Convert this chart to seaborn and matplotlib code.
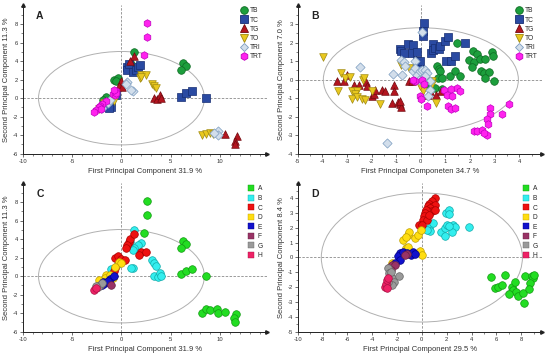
import matplotlib
matplotlib.use("Agg")
import matplotlib.pyplot as plt
import seaborn as sns
import pandas as pd
from matplotlib.patches import Ellipse
from matplotlib.lines import Line2D
from matplotlib.ticker import MultipleLocator, AutoMinorLocator

# ---------------- data (PC1, PC2) ----------------
# Panel A
a_tb = [(1.3,5.0),(1.0,3.7),(-0.8,2.0),(-0.3,2.2),(-0.5,1.9),(6.2,3.8),(6.5,3.5),(6.0,3.1),(-1.6,0.1),(-1.9,-0.2)]
a_tc = [(0.6,3.4),(0.6,3.0),(0.8,3.7),(1.2,2.8),(1.5,3.0),(1.7,3.4),(1.9,3.6),(-0.6,0.3),(-1.1,-1.0),(-1.3,-1.1),
        (6.0,0.1),(6.5,0.55),(7.1,0.8),(8.6,0.0)]
a_tg = [(1.3,4.6),(0.9,4.0),(0.0,1.9),(-0.2,1.3),(0.05,1.2),(3.3,0.05),(3.6,-0.1),(3.9,0.3),(4.0,0.0),
        (10.5,-3.9),(11.7,-4.1),(11.5,-4.6),(11.5,-4.9)]
a_to = [(1.95,2.5),(1.9,2.2),(2.5,2.5),(2.0,2.3),(3.1,1.55),(3.3,1.3),(3.5,1.1),(-0.8,-0.3),(-1.8,-0.5),(-2.3,-1.2),
        (8.2,-4.0),(8.6,-3.9),(9.0,-3.8),(9.3,-3.9)]
a_tri = [(0.6,1.8),(0.5,1.5),(1.2,0.8),(1.0,0.9),(9.76,-3.6),(9.76,-4.0),(9.4,-3.8),(-1.4,-0.5),(-1.2,-0.2),(-2.0,-1.1)]
a_trt = [(2.6,8.1),(2.6,6.6),(2.3,4.7),(-0.6,0.8),(-0.9,0.5),(-0.7,0.3),(-0.5,0.6),(-0.8,0.9),(-1.6,-0.3),
         (-2.0,-0.6),(-2.2,-0.8),(-2.3,-1.0),(-2.6,-1.3),(-2.8,-1.5),(-2.1,-1.2)]

# Panel B
b_tb = [(1.46,2.0),(2.12,1.52),(2.28,1.40),(1.94,1.08),(2.14,0.95),(2.41,1.11),(2.62,1.11),(2.89,1.47),(2.91,1.25),
        (2.07,0.66),(2.44,0.45),(2.57,0.36),(2.75,0.41),(2.59,0.09),(2.95,-0.05),(0.65,0.72),(0.72,0.57),(0.79,0.45),
        (0.69,0.09),(0.85,0.09),(1.17,0.22),(1.40,0.45),(1.6,0.22),(0.58,-0.45),(0.85,-0.5),(0.22,-0.05),(0.28,-0.22)]
b_tc = [(0.14,3.05),(0.08,2.6),(0.08,2.33),(-0.84,1.65),(-0.8,1.52),(-0.53,1.92),(-0.33,1.88),(-0.7,1.43),(-0.37,1.43),
        (0.51,1.92),(0.42,1.43),(0.51,1.61),(0.58,1.70),(0.72,1.65),(0.79,1.79),(0.99,2.10),(1.10,2.28),(1.80,2.0),
        (1.02,1.02),(1.23,0.99),(1.37,1.25),(-0.16,1.47),(-0.16,0.99),(-0.09,0.84),(-0.05,0.99)]
b_tg = [(-3.41,-0.09),(-3.14,-0.09),(-3.0,0.27),(-2.7,-0.27),(-2.53,-0.3),(-2.22,-0.13),(-2.2,-0.36),(-1.99,-0.86),
        (-1.92,-0.77),(-1.86,-0.57),(-1.59,-0.54),(-1.45,-0.63),(-1.11,-0.3),(-1.11,-0.63),(-1.18,-1.25),(-0.93,-1.22),
        (-0.84,-1.31),(-0.81,-1.49),(-0.84,-1.16),(-0.5,-0.09),(-0.37,-0.09),(0.38,-0.63),(0.62,-0.84),(0.83,-0.63),(0.31,-0.84)]
b_to = [(-3.96,1.22),(-3.25,0.36),(-3.08,0.09),(-2.87,0.13),(-3.35,-0.63),(-2.78,-0.59),(-2.60,-0.63),(-2.67,-0.77),
        (-2.80,-1.04),(-2.60,-0.95),(-2.40,-1.04),(-2.26,-1.08),(-2.33,0.0),(-2.29,0.09),(-1.99,-0.63),(-1.65,-1.29),
        (-0.8,0.77),(-0.47,0.63),(0.45,-0.09),(0.45,-0.22),(0.62,-1.25),(0.08,-0.59),(-0.03,-0.36)]
b_tri = [(-2.47,0.68),(-1.36,-3.41),(-1.15,0.32),(-0.81,1.08),(-0.7,0.95),(-0.64,0.72),(-0.77,0.27),(-0.33,0.45),
         (-0.23,0.99),(-0.23,0.63),(-0.16,0.27),(-0.03,0.45),(0.04,0.54),(0.18,0.54),(0.24,0.36),(0.15,0.18),
         (0.04,2.56),(0.38,-0.09),(0.38,-0.54),(0.28,-0.90),(-0.09,0.0),(0.11,-0.18)]
b_trt = [(-0.23,-0.09),(0.04,0.0),(-0.3,0.0),(0.11,-0.23),(-0.05,-0.9),(0.0,-1.02),(0.24,-1.43),(0.92,-0.54),
         (1.06,-0.81),(1.23,-0.5),(1.26,-0.9),(1.46,-0.45),(1.60,-0.63),(1.12,-1.43),(1.22,-1.61),(1.40,-1.52),
         (2.82,-1.52),(2.79,-1.88),(2.68,-2.11),(2.72,-2.42),(2.68,-3.01),(2.14,-2.78),(2.28,-2.78),(2.48,-2.74),
         (2.55,-2.87),(3.29,-1.88),(3.56,-1.34)]

# Panel C
c_a = [(2.6,8.1),(2.6,6.6),(2.3,4.7),(6.2,3.8),(6.5,3.5),(6.0,3.1),(6.0,0.2),(6.5,0.6),(7.1,0.8),(8.6,0.0),
       (8.2,-3.95),(8.6,-3.6),(9.0,-3.7),(9.7,-3.5),(9.8,-4.0),(10.5,-3.9),(11.6,-4.1),(11.4,-4.5),(11.5,-4.9)]
c_b = [(1.3,5.0),(1.95,3.6),(1.7,3.4),(1.3,3.0),(1.2,2.8),(0.9,3.7),(3.1,1.7),(3.3,1.4),(3.5,1.1),(1.2,0.9),(1.0,0.9),
       (3.3,0.05),(3.7,-0.1),(3.9,0.3),(4.0,0.0),(-0.3,1.3),(-1.1,0.8)]
c_c = [(0.75,3.7),(0.9,4.0),(1.3,4.6),(0.6,3.4),(0.5,3.0),(-0.7,2.0),(-0.3,2.2),(0.0,1.9),(0.4,1.8),(1.95,2.6),
       (1.8,2.3),(2.5,2.6),(-0.7,0.9),(-0.8,0.6),(-1.3,0.0)]
c_d = [(-0.2,1.5),(0.0,1.4),(-0.7,1.0),(-1.6,0.1),(-1.7,-0.2),(-1.2,0.1),(-2.0,-0.6),(-2.3,-0.4),(-0.9,-0.2)]
c_e = [(-1.9,-0.6),(-1.7,-0.7),(-1.2,-0.3),(-0.75,0.0),(-2.0,-0.9),(-1.4,-0.5)]
c_f = [(-1.1,-0.9),(-2.2,-1.0),(-2.5,-1.2)]
c_g = [(-2.2,-0.9),(-2.4,-1.2),(-2.0,-0.7),(-2.6,-1.1)]
c_h = [(-2.8,-1.5),(-2.6,-1.3)]

# Panel D
d_a = [(5.59,-1.33),(6.72,-1.17),(5.91,-2.07),(6.13,-1.96),(6.45,-1.85),(7.26,-1.96),(7.47,-1.62),(7.34,-2.18),
       (7.61,-2.30),(6.99,-2.48),(7.72,-2.59),(8.28,-1.24),(8.12,-2.41),(8.2,-3.04),(8.87,-1.28),(8.95,-1.40),
       (9.0,-1.17),(8.74,-1.73),(8.66,-2.14)]
d_b = [(0.54,1.98),(0.62,1.76),(0.40,1.87),(0.86,2.32),(1.96,3.0),(2.20,3.18),(2.15,2.93),(1.56,1.69),(1.88,1.42),
       (1.88,1.98),(2.02,2.21),(2.5,2.21),(2.69,2.03),(2.42,1.69),(3.76,2.03),(2.15,2.09)]
d_c = [(1.02,4.0),(0.81,3.78),(0.59,3.6),(0.48,3.45),(0.86,3.45),(1.08,3.56),(0.67,3.33),(0.81,3.15),(0.48,3.11),
       (0.32,3.22),(0.27,3.0),(0.19,2.77),(0.08,2.55),(0.40,2.55),(0.54,2.84),(-0.22,2.21),(0.0,2.21),(1.02,3.22)]
d_d = [(-1.13,1.53),(-1.02,1.69),(-1.53,1.19),(-1.29,1.35),(-0.54,1.31),(-0.32,1.49),(-0.08,1.87),(-1.29,0.63),
       (-1.13,0.68),(-0.13,0.41),(0.0,0.14),(-2.37,-0.38)]
d_e = [(-1.75,0.29),(-1.94,0.07),(-1.80,-0.16),(-1.48,0.36),(-1.21,0.29),(-0.86,0.18),(-0.73,0.36),(-0.59,0.23),(-2.15,-0.38)]
d_f = [(-1.21,0.23),(-1.34,0.14),(-2.55,-0.61),(-2.42,-0.54),(-2.15,-0.54),(-2.47,-0.83)]
d_g = [(-2.69,-0.72),(-2.63,-1.06),(-2.55,-1.28),(-2.37,-1.40),(-1.88,-1.28),(-2.28,-1.62),(-2.42,-1.85),(-2.69,-1.62),(-2.47,-0.95)]
d_h = [(-2.96,-1.96),(-2.88,-1.80),(-2.77,-1.51),(-2.69,-1.40),(-2.82,-2.03)]

labels_ab = ["TB", "TC", "TG", "TO", "TRI", "TRT"]
labels_cd = ["A", "B", "C", "D", "E", "F", "G", "H"]

# ---------------- styles ----------------
style_ab = {
    "TB": ("o", "#1c9e3c", "#0d6a22"),
    "TC": ("s", "#2a4aa2", "#172e72"),
    "TG": ("^", "#b3151f", "#700a10"),
    "TO": ("v", "#e9c81f", "#a08a10"),
    "TRI": ("D", "#d2deeb", "#7c9cc0"),
    "TRT": ("h", "#ff22ee", "#c000c0"),
}
style_cd = {
    "A": ("#22dd22", "#119911"),
    "B": ("#33eeee", "#10aaaa"),
    "C": ("#ee1111", "#aa0000"),
    "D": ("#ffdd11", "#c0a000"),
    "E": ("#1111cc", "#000088"),
    "F": ("#993366", "#662244"),
    "G": ("#9a9a9a", "#666666"),
    "H": ("#ee2266", "#aa1144"),
}

sns.set_theme(style="white")
plt.rcParams["font.family"] = ["Liberation Sans", "DejaVu Sans"]

fig = plt.figure(figsize=(5.5, 3.56), dpi=100)
TXT = "#333333"

def frame(rect, xlim, ylim, xstep, ystep, ell, letter):
    ax = fig.add_axes(rect)
    ax.set_xlim(*xlim)
    ax.set_ylim(*ylim)
    for s in ["top", "right"]:
        ax.spines[s].set_visible(False)
    for s in ["left", "bottom"]:
        ax.spines[s].set_color("#222222")
        ax.spines[s].set_linewidth(0.7)
    ax.plot(1, 0, ">", color="#222222", markersize=2.5, transform=ax.transAxes, clip_on=False)
    ax.plot(0, 1, "^", color="#222222", markersize=2.5, transform=ax.transAxes, clip_on=False)
    ax.xaxis.set_major_locator(MultipleLocator(xstep))
    ax.yaxis.set_major_locator(MultipleLocator(ystep))
    ax.xaxis.set_minor_locator(AutoMinorLocator(2 if xstep <= 2 else 5))
    ax.yaxis.set_minor_locator(AutoMinorLocator(2))
    ax.tick_params(which="major", direction="out", length=2, width=0.5, labelsize=4.2,
                   colors=TXT, pad=1.5, bottom=True, left=True)
    ax.tick_params(which="minor", direction="out", length=1.2, width=0.4, bottom=True, left=True)
    xt = [t for t in ax.get_xticks() if xlim[0] - 1e-6 <= t <= xlim[1] - 0.3]
    yt = [t for t in ax.get_yticks() if ylim[0] - 1e-6 <= t <= ylim[1] - 0.5]
    ax.set_xticks(xt)
    ax.set_yticks(yt)
    ax.set_xticklabels([f"{t:g}" for t in xt])
    ax.set_yticklabels([f"{t:g}" for t in yt])
    ax.axhline(0, color="#9a9a9a", lw=0.7, ls=(0, (2.5, 1.5)), zorder=1)
    ax.axvline(0, color="#9a9a9a", lw=0.7, ls=(0, (2.5, 1.5)), zorder=1)
    ax.add_patch(Ellipse((0, 0), 2 * ell[0], 2 * ell[1], fill=False, edgecolor="#b0b0b0", lw=0.7, zorder=1))
    ax.text(0.055, 0.96, letter, transform=ax.transAxes, fontsize=7.5, fontweight="bold",
            color="#222222", va="top", ha="left")
    return ax

def labels(ax, xlabel, ylabel):
    ax.set_xlabel(xlabel, fontsize=5.5, color=TXT, labelpad=3)
    ax.set_ylabel(ylabel, fontsize=5.5, color=TXT, labelpad=2)

def draw_ab(ax, groups):
    handles = []
    for lab, pts in zip(labels_ab, groups):
        m, fc, ec = style_ab[lab]
        df = pd.DataFrame(pts, columns=["x", "y"])
        sz = 22 if m == "D" else 30
        sns.scatterplot(data=df, x="x", y="y", marker=m, color=fc, edgecolor=ec, linewidth=0.5,
                        s=sz, ax=ax, zorder=3, legend=False)
        handles.append(Line2D([], [], ls="", marker=m, markerfacecolor=fc, markeredgecolor=ec,
                              markeredgewidth=0.6, markersize=5.5 if m != "D" else 4.5, label=lab))
    ax.legend(handles=handles, loc="upper right", bbox_to_anchor=(1.0, 1.01), frameon=False,
              fontsize=4.8, labelspacing=0.32, handletextpad=0.3, handlelength=1.2, borderaxespad=0.2)

def draw_cd(ax, groups):
    handles = []
    for lab, pts in zip(labels_cd, groups):
        fc, ec = style_cd[lab]
        df = pd.DataFrame(pts, columns=["x", "y"])
        sns.scatterplot(data=df, x="x", y="y", marker="o", color=fc, edgecolor=ec, linewidth=0.5,
                        s=30, ax=ax, zorder=3, legend=False)
        handles.append(Line2D([], [], ls="", marker="s", markerfacecolor=fc, markeredgecolor=ec,
                              markeredgewidth=0.3, markersize=4.5, label=lab))
    ax.legend(handles=handles, loc="upper right", bbox_to_anchor=(1.0, 1.01), frameon=False,
              fontsize=4.8, labelspacing=0.38, handletextpad=0.4, handlelength=1.2, borderaxespad=0.2)

L1, W = 0.0413, 0.4442
L2 = 0.5413
B1, H1 = 0.5683, 0.4177
B2, H2 = 0.0683, 0.4177

axA = frame([L1, B1, W, H1], (-10, 14.75), (-6, 10.08), 5, 2, (8.4, 5.05), "A")
draw_ab(axA, [a_tb, a_tc, a_tg, a_to, a_tri, a_trt])
labels(axA, "First Principal Component 31.9 %", "Second Principal Component 11.3 %")

axB = frame([L2, B1, W, H1], (-5, 4.92), (-4, 4.03), 1, 1, (3.96, 2.8), "B")
draw_ab(axB, [b_tb, b_tc, b_tg, b_to, b_tri, b_trt])
labels(axB, "First Principal Componeten 34.7 %", "Second Principal Component 7.0 %")

axC = frame([L1, B2, W, H2], (-10, 14.75), (-6, 10.08), 5, 2, (8.4, 5.05), "C")
draw_cd(axC, [c_a, c_b, c_c, c_d, c_e, c_f, c_g, c_h])
labels(axC, "First Principal Component 31.9 %", "Second Principal Component 11.3 %")

axD = frame([L2, B2, W, H2], (-10, 9.68), (-5, 5.02), 2, 1, (8.1, 4.35), "D")
draw_cd(axD, [d_a, d_b, d_c, d_d, d_e, d_f, d_g, d_h])
labels(axD, "First Principal Component 29.5 %", "Second Principal Component 8.4 %")

fig.savefig("out.png", dpi=100, facecolor="white")
